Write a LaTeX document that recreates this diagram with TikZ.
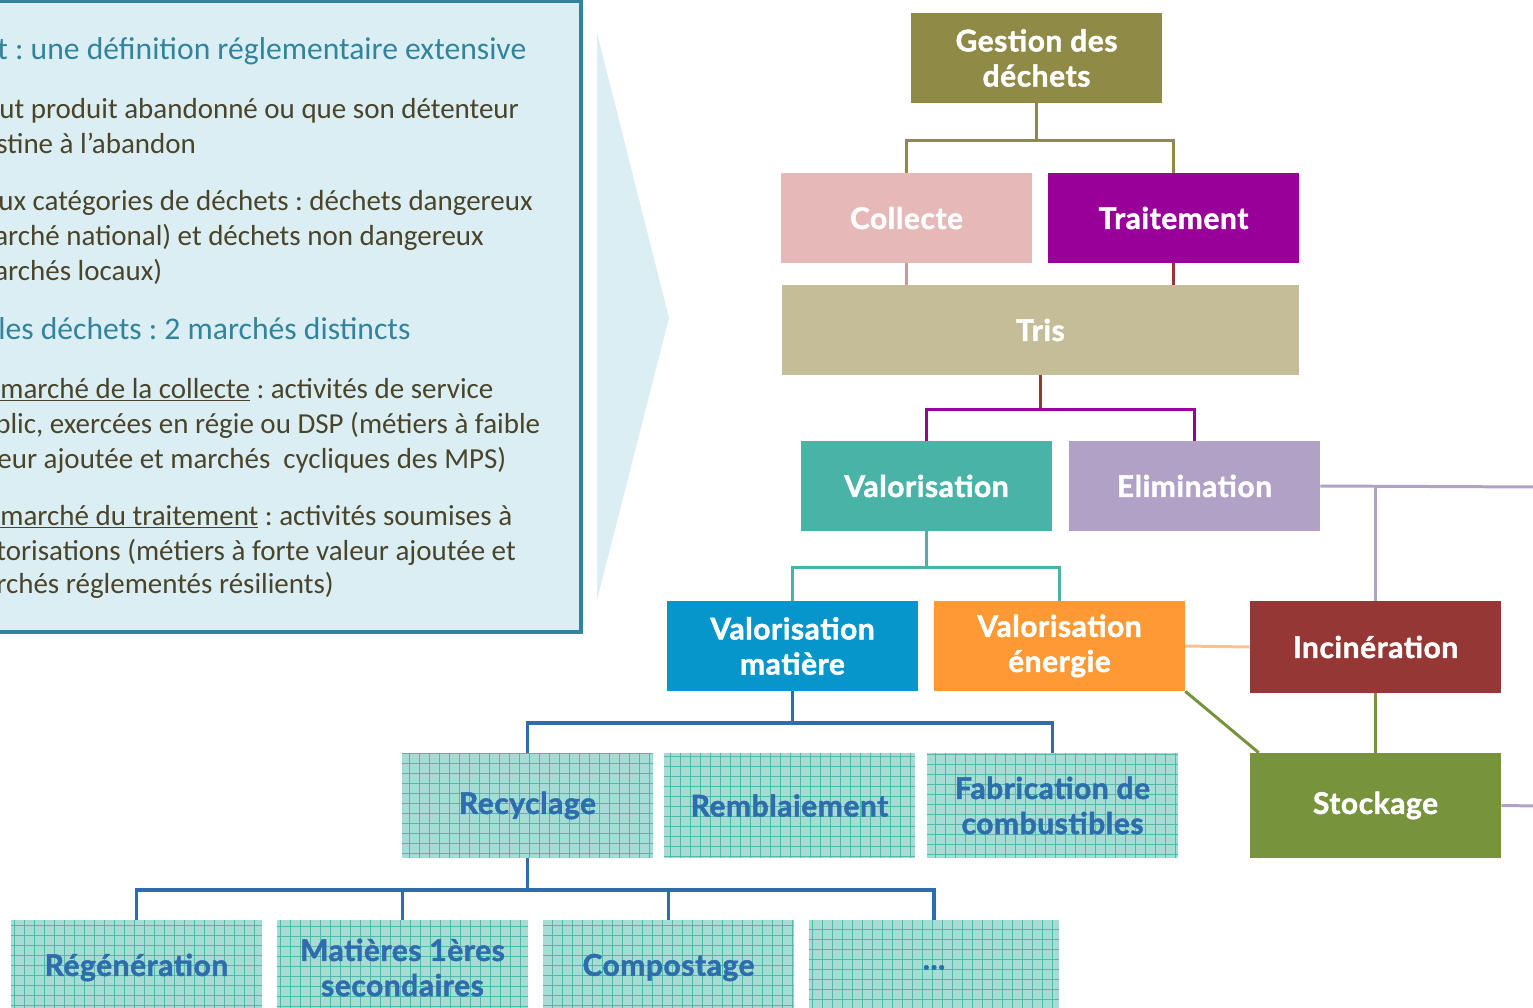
\documentclass[tikz,border=0pt]{standalone}
\usepackage{fontspec}
\setmainfont{Carlito}
\newfontfamily\boxfont[LetterSpace=2, BoldFeatures={FakeBold=1.6, LetterSpace=2}]{Lato}
\usepackage{xcolor}
\frenchspacing
\definecolor{panel-fill}{HTML}{DBEEF4}
\definecolor{panel-line}{HTML}{31849B}
\definecolor{panel-text}{HTML}{4A442A}
\definecolor{c-gestion}{HTML}{8F8B47}
\definecolor{c-collecte}{HTML}{E6B8B7}
\definecolor{c-traitement}{HTML}{990099}
\definecolor{c-tris}{HTML}{C4BD97}
\definecolor{c-valo}{HTML}{4AB3A8}
\definecolor{c-elim}{HTML}{B2A1C7}
\definecolor{c-matiere}{HTML}{0796CB}
\definecolor{c-energie}{HTML}{FF9933}
\definecolor{c-incin}{HTML}{953735}
\definecolor{c-stock}{HTML}{77933C}
\definecolor{c-blue}{HTML}{2E6DAD}
\definecolor{c-peach}{HTML}{FAC090}
\definecolor{grid-fill}{HTML}{A6DCD3}
\definecolor{grid-line}{HTML}{4FB9AA}
\tikzset{
    org-box/.style = {rectangle, minimum width=5.02cm, minimum height=1.8cm, inner sep=0pt, text=white, align=center, font=\boxfont\bfseries\fontsize{17}{20}\selectfont},
    grid-box/.style = {org-box, minimum height=2.1cm, fill=grid-fill, text=c-blue,
        path picture={\draw[grid-line, line width=0.5pt] (path picture bounding box.south west) grid[step=0.2cm] (path picture bounding box.north east);}},
    link/.style = {line width=1.7pt},
    panel-head/.style = {anchor=base west, inner sep=0pt, text=panel-line, font=\fontsize{18}{21}\selectfont},
    panel-text/.style = {anchor=base west, inner sep=0pt, text=panel-text, font=\fontsize{16.5}{20}\selectfont},
}

\begin{document}
\begin{tikzpicture}[x=0.02cm, y=-0.02cm]
\useasboundingbox (0,0) rectangle (1533,1007);
\clip (0,0) rectangle (1533,1007);

% left panel
\draw[panel-line, fill=panel-fill, line width=2.3pt] (-10,1) rectangle (581,632);
\fill[panel-fill] (597,33) -- (669,318) -- (597,600) -- cycle;

\node[panel-head] (txt-head1) at (-3,60) {t : une définition réglementaire extensive};
\node[panel-text] (txt-a1) at (-1,118) {ut produit abandonné ou que son détenteur};
\node[panel-text] (txt-a2) at (-4,153) {stine à l’abandon};
\node[panel-text] (txt-b1) at (-2,210) {ux catégories de déchets : déchets dangereux};
\node[panel-text] (txt-b2) at (-6,245) {arché national) et déchets non dangereux};
\node[panel-text] (txt-b3) at (-6,280) {archés locaux)};
\node[panel-head] (txt-head2) at (-2,339) {les déchets : 2 marchés distincts};
\node[panel-text] (txt-c1) at (0,398) {\underline{marché de la collecte} : activités de service};
\node[panel-text] (txt-c2) at (-5,433) {blic, exercées en régie ou DSP (métiers à faible};
\node[panel-text] (txt-c3) at (-3,468) {eur ajoutée et marchés~ cycliques des MPS)};
\node[panel-text] (txt-d1) at (0,525) {\underline{marché du traitement} : activités soumises à};
\node[panel-text] (txt-d2) at (-4,560) {torisations (métiers à forte valeur ajoutée et};
\node[panel-text] (txt-d3) at (-4,593) {rchés réglementés résilients)};

% tree
\node[org-box, fill=c-gestion] (gestion) at (1036.5,58) {Gestion des\\déchets};
\node[org-box, fill=c-collecte] (collecte) at (906.5,218) {Collecte};
\node[org-box, fill=c-traitement] (traitement) at (1173.5,218) {Traitement};
\node[org-box, fill=c-tris, minimum width=10.34cm] (tris) at (1040.5,330) {Tris};
\node[org-box, fill=c-valo] (valo) at (926.5,486) {Valorisation};
\node[org-box, fill=c-elim] (elim) at (1194.5,486) {Elimination};
\node[org-box, fill=c-matiere] (matiere) at (792.5,646) {Valorisation\\matière};
\node[org-box, fill=c-energie] (energie) at (1059.5,646) {Valorisation\\énergie};
\node[org-box, fill=c-incin, minimum height=1.84cm] (incin) at (1375.5,647) {Incinération};
\node[org-box, fill=c-stock, minimum height=2.1cm] (stock) at (1375.5,805.5) {Stockage};

\node[grid-box] (recyclage) at (527.5,805.5) {Recyclage};
\node[grid-box] (remblai) at (789.5,805.5) {Remblaiement};
\node[grid-box] (fabrication) at (1052.5,805.5) {Fabrication de\\combustibles};
\node[grid-box, minimum height=1.9cm] (regen) at (136.5,967.5) {Régénération};
\node[grid-box, minimum height=1.9cm] (mps) at (402.5,967.5) {Matières 1ères\\secondaires};
\node[grid-box, minimum height=1.9cm] (compost) at (668.5,967.5) {Compostage};
\node[grid-box, minimum height=1.9cm] (autres) at (934,967.5) {...};

\coordinate (elim-out) at (1540,487);
\coordinate (stock-out) at (1540,806);

% links
\draw[link, c-gestion] (collecte.north) |- ([yshift=-37*0.02cm]gestion.south) -| (traitement.north);
\draw[link, c-gestion] (gestion.south) -- ++(0,37);
\draw[link, c-collecte!85!black] (collecte.south) -- (collecte.south |- tris.north);
\draw[link, c-incin] (traitement.south) -- (traitement.south |- tris.north);
\draw[link, c-incin] (tris.south) -- ++(0,34) coordinate (tris-mid);
\draw[link, c-traitement] (valo.north) |- (tris-mid) -| (elim.north);
\draw[link, c-valo] (valo.south) -- ++(0,36) coordinate (valo-mid);
\draw[link, c-valo] (matiere.north) |- (valo-mid) -| (energie.north);
\draw[link, c-blue, line width=2.2pt] (matiere.south) -- ++(0,32) coordinate (matiere-mid);
\draw[link, c-blue, line width=2.2pt] (recyclage.north) |- (matiere-mid) -| (fabrication.north);
\draw[link, c-blue, line width=2.2pt] (recyclage.south) -- ++(0,32) coordinate (recyclage-mid);
\draw[link, c-blue, line width=2.2pt] (regen.north) |- (recyclage-mid) -| (autres.north);
\draw[link, c-blue, line width=2.2pt] (mps.north) -- (mps.north |- recyclage-mid);
\draw[link, c-blue, line width=2.2pt] (compost.north) -- (compost.north |- recyclage-mid);
\draw[link, c-elim] (elim.east) -- (elim-out);
\draw[link, c-elim] (elim.east -| incin.north) -- (incin.north);
\draw[link, c-peach] (energie.east) -- (incin.west);
\draw[link, c-stock] (energie.south east) -- ([xshift=9*0.02cm]stock.north west);
\draw[link, c-stock] (incin.south) -- (stock.north);
\draw[link, c-elim] (stock.east) -- (stock-out);
\end{tikzpicture}
\end{document}
